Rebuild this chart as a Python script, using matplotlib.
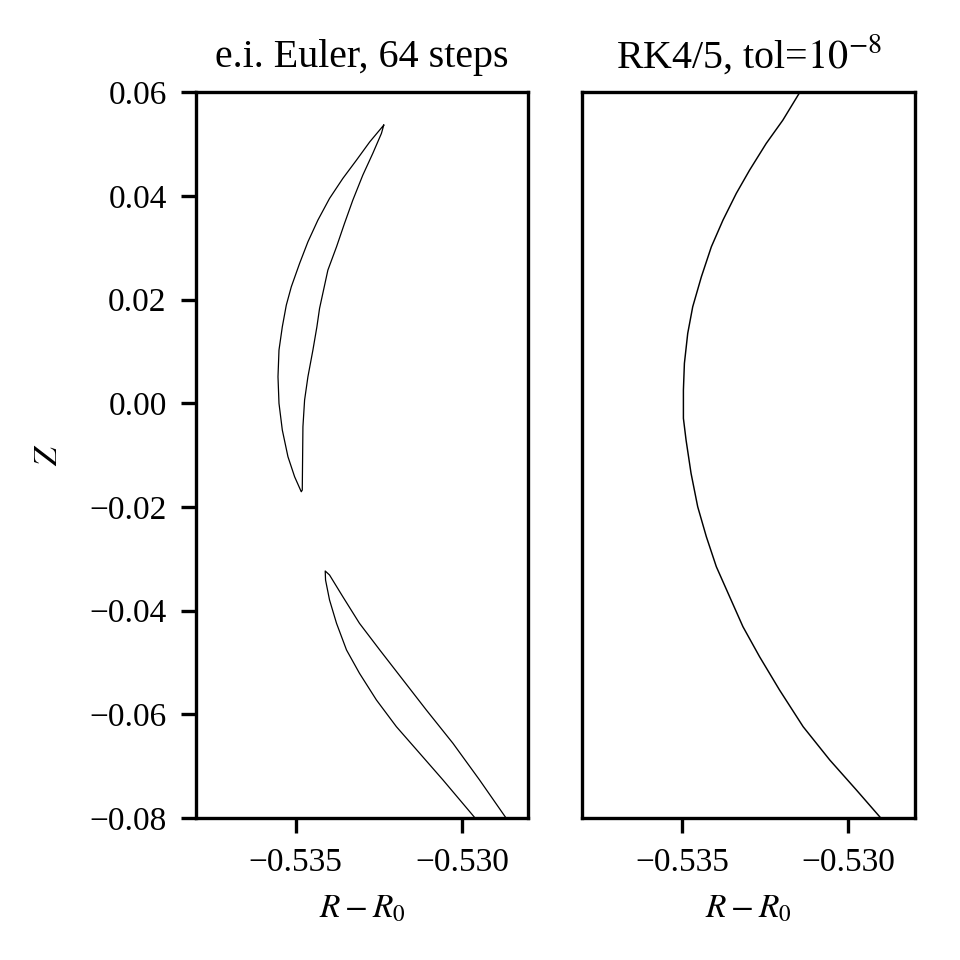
import matplotlib
matplotlib.use('Agg')
import matplotlib.pyplot as plt
import numpy as np

plt.rcParams['font.family'] = ['Liberation Serif', 'DejaVu Serif']
plt.rcParams['mathtext.fontset'] = 'stix'
plt.rcParams['font.size'] = 8

# e.i. Euler, 64 steps -- upper island (outer edge top->bottom, then inner edge bottom->top)
euler_up_r = [-0.53235, -0.53277, -0.53317, -0.53358, -0.53398, -0.53433, -0.53463,
              -0.53488, -0.53513, -0.53528, -0.53540, -0.53550, -0.53553, -0.53550,
              -0.53540, -0.53523, -0.53503, -0.53483,
              -0.53480, -0.53478, -0.53473, -0.53463, -0.53448, -0.53436, -0.53428,
              -0.53403, -0.53377, -0.53353, -0.53328, -0.53298, -0.53268, -0.53242,
              -0.53235]
euler_up_z = [0.05364, 0.05042, 0.04689, 0.04336, 0.03950, 0.03532, 0.03113,
              0.02697, 0.02245, 0.01892, 0.01474, 0.01025, 0.00510, -0.00003,
              -0.00518, -0.01033, -0.01419, -0.01708,
              -0.01675, -0.00454, 0.00061, 0.00510, 0.01025, 0.01474, 0.01829,
              0.02567, 0.03017, 0.03468, 0.03917, 0.04399, 0.04818, 0.05204,
              0.05364]

# lower island, enters and leaves through the bottom edge
euler_lo_r = [-0.52954, -0.53057, -0.53127, -0.53197, -0.53257, -0.53308, -0.53347,
              -0.53377, -0.53398, -0.53410, -0.53411,
              -0.53398, -0.53358, -0.53308, -0.53247, -0.53177, -0.53107, -0.53027,
              -0.52947, -0.52862]
euler_lo_z = [-0.0805, -0.07267, -0.06753, -0.06240, -0.05725, -0.05210, -0.04760,
              -0.04246, -0.03796, -0.03411, -0.03237,
              -0.03314, -0.03733, -0.04246, -0.04760, -0.05339, -0.05918, -0.06560,
              -0.07267, -0.0805]

# RK4/5, tol=1e-8
rk_r = [-0.53141, -0.53197, -0.53247, -0.53297, -0.53337, -0.53377, -0.53412,
        -0.53442, -0.53468, -0.53483, -0.53493, -0.53496, -0.53496, -0.53488,
        -0.53473, -0.53453, -0.53427, -0.53397, -0.53357, -0.53317, -0.53267,
        -0.53207, -0.53136, -0.53056, -0.52976, -0.52900]
rk_z = [0.0605, 0.05460, 0.05011, 0.04496, 0.04047, 0.03532, 0.03017,
        0.02438, 0.01860, 0.01347, 0.00768, 0.00253, -0.00292, -0.00711,
        -0.01353, -0.01997, -0.02576, -0.03154, -0.03733, -0.04311, -0.04890,
        -0.05532, -0.06240, -0.06882, -0.07460, -0.0802]

titles = ['e.i. Euler, 64 steps', r'RK4/5, tol=$10^{-8}$']

fig, (ax1, ax2) = plt.subplots(1, 2, sharey=True, figsize=(3.2, 3.2), dpi=300)
fig.subplots_adjust(left=0.204, right=0.953, bottom=0.148, top=0.904, wspace=0.162)

ax1.plot(euler_up_r, euler_up_z, color='k', lw=0.3, solid_joinstyle='round')
ax1.plot(euler_lo_r, euler_lo_z, color='k', lw=0.3, solid_joinstyle='round')
ax2.plot(rk_r, rk_z, color='k', lw=0.35, solid_joinstyle='round')

for ax, t in zip((ax1, ax2), titles):
    ax.set_xlim(-0.538, -0.528)
    ax.set_ylim(-0.08, 0.06)
    ax.set_xticks([-0.535, -0.530])
    ax.set_xticklabels(['\u22120.535', '\u22120.530'])
    ax.set_xlabel(r'$R-R_0$')
    ax.set_title(t)

yt = np.array([0.06, 0.04, 0.02, 0.0, -0.02, -0.04, -0.06, -0.08])
ax1.set_yticks(yt)
ax1.set_yticklabels([('%.2f' % v).replace('-', '\u2212') for v in yt])
ax1.set_ylabel(r'$Z$', labelpad=6)
ax2.tick_params(axis='y', left=False, labelleft=False)

fig.savefig('out.png', dpi=300)
